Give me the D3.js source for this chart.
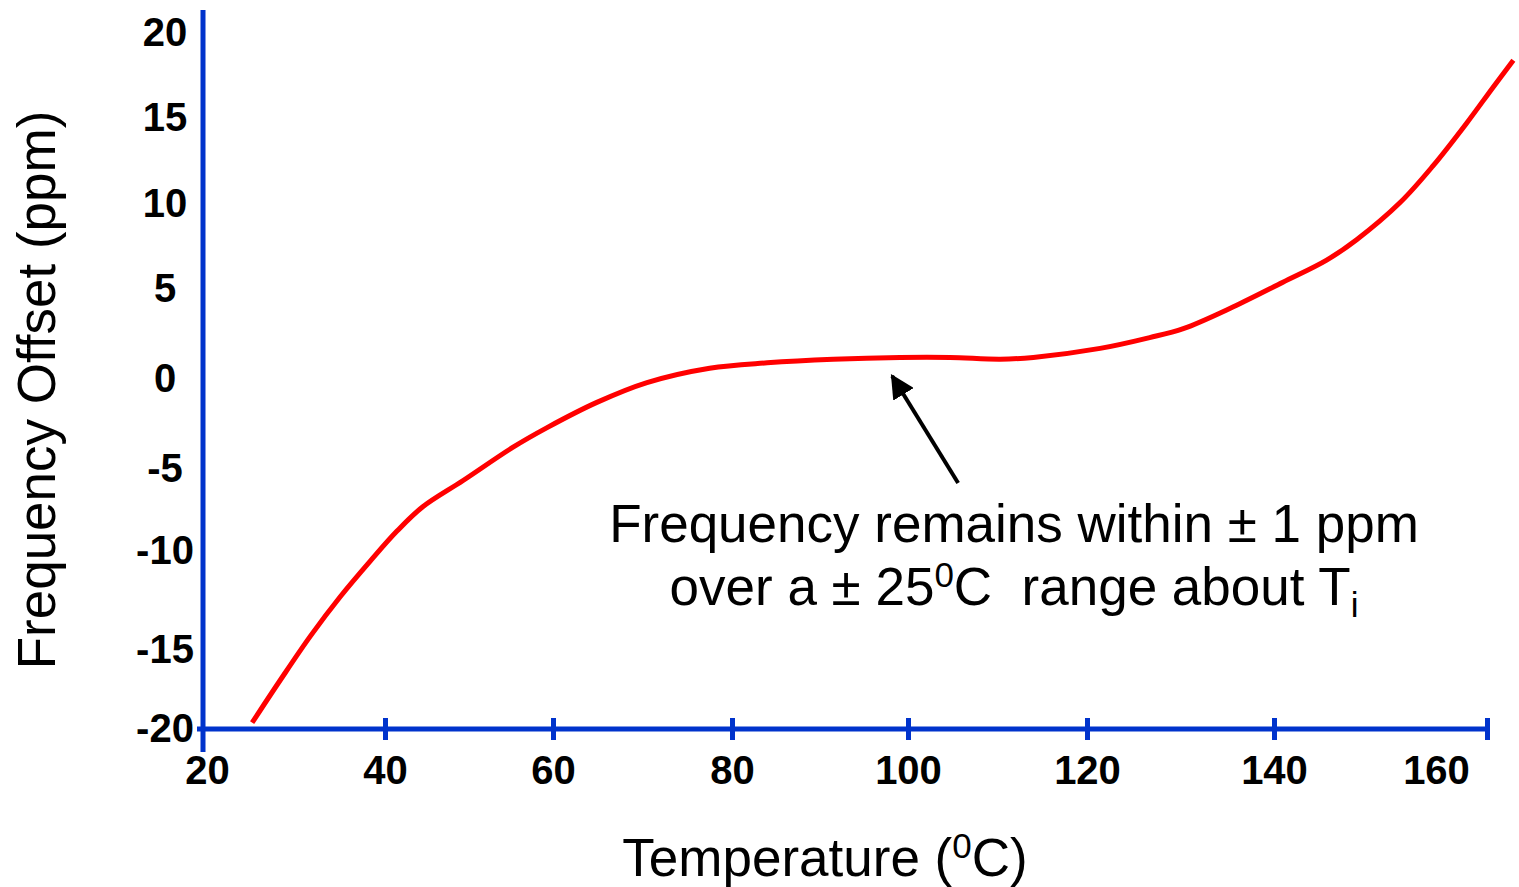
<!DOCTYPE html>
<html>
<head>
<meta charset="utf-8">
<script src="https://cdn.jsdelivr.net/npm/d3@7"></script>
<style>
  html, body { margin: 0; padding: 0; background: #fff; }
  svg { display: block; font-family: "Liberation Sans", Arial, sans-serif; }
</style>
</head>
<body>
<svg id="chart" width="1519" height="887"></svg>
<script>
// Values
const tempC = [25.4, 28.5, 31.8, 35.1, 38.4, 41.4, 44.5, 49.3, 55.2, 59.3, 64.9, 70.5, 77.5, 84.0, 91.5, 99.1,
  104.7, 110.3, 114.0, 121.4, 126.7, 130.3, 135.6, 141.1, 146.5, 150.2, 155.6, 159.6, 163.6, 166.7, 169.1];
const offsetPpm = [-19.6, -16.9, -14.3, -12.3, -10.5, -8.8, -7.3, -5.7, -3.8, -2.7, -1.3, -0.2, 0.6, 0.9, 1.1, 1.2,
  1.2, 1.1, 1.2, 1.7, 2.3, 2.8, 4.0, 5.4, 6.7, 7.9, 10.1, 12.2, 14.7, 16.8, 18.4];

const xTickLabels = [20, 40, 60, 80, 100, 120, 140, 160];
const xTickMarks = [40, 60, 80, 100, 120, 140, 166];
const yTickLabels = [-20, -15, -10, -5, 0, 5, 10, 15, 20];

const xTitle = 'Temperature (';
const yTitle = 'Frequency Offset (ppm)';
const noteLine1 = 'Frequency remains within \u00b1 1 ppm';

const axisColor = '#0033cc';
const curveColor = '#ff0000';

const svg = d3.select('#chart');

// The original was hand drawn, so the gridlines are not evenly spaced: piecewise scales follow it
const x = d3.scaleLinear()
  .domain([20, 40, 60, 80, 100, 120, 140, 160, 166])
  .range([203, 385, 553, 732, 908, 1087, 1274, 1436, 1487]);
const y = d3.scaleLinear()
  .domain(yTickLabels)
  .range([729, 650, 551, 469, 379, 289, 204, 118, 33]);

// Axis lines
svg.append('line')
  .attr('x1', x(20)).attr('x2', x(20))
  .attr('y1', 10).attr('y2', 752)
  .attr('stroke', axisColor).attr('stroke-width', 5);
svg.append('line')
  .attr('x1', 197).attr('x2', x(166))
  .attr('y1', y(-20)).attr('y2', y(-20))
  .attr('stroke', axisColor).attr('stroke-width', 5);

// Tick marks across the x axis
const tickG = svg.append('g')
  .attr('transform', `translate(0,${y(-20)})`)
  .call(d3.axisBottom(x).tickValues(xTickMarks).tickSize(11).tickFormat(''));
tickG.select('.domain').remove();
tickG.selectAll('.tick line')
  .attr('y1', -11).attr('y2', 11)
  .attr('stroke', axisColor).attr('stroke-width', 5);

const fmt = d => String(d); // plain hyphen, as in the original

// X tick labels
const xLab = svg.append('g')
  .attr('transform', `translate(0,${y(-20)})`)
  .call(d3.axisBottom(x).tickValues(xTickLabels).tickSize(0).tickPadding(27).tickFormat(fmt));
xLab.select('.domain').remove();
xLab.selectAll('text')
  .attr('fill', '#000')
  .attr('font-size', 40)
  .attr('font-weight', 'bold')
  .attr('font-family', '"Liberation Sans", Arial, sans-serif')
  .attr('dx', d => d === 20 ? 4 : 0);

// Y tick labels
const yLab = svg.append('g')
  .attr('transform', `translate(${x(20)},0)`)
  .call(d3.axisLeft(y).tickValues(yTickLabels).tickSize(0).tickPadding(38).tickFormat(fmt));
yLab.select('.domain').remove();
yLab.selectAll('text')
  .attr('fill', '#000')
  .attr('text-anchor', 'middle')
  .attr('font-size', 40)
  .attr('font-weight', 'bold')
  .attr('font-family', '"Liberation Sans", Arial, sans-serif');

// Curve
const line = d3.line()
  .x((d, i) => x(d))
  .y((d, i) => y(offsetPpm[i]))
  .curve(d3.curveCatmullRom.alpha(0.5));
svg.append('path')
  .datum(tempC)
  .attr('d', line)
  .attr('fill', 'none')
  .attr('stroke', curveColor)
  .attr('stroke-width', 5);

// Axis titles
const xt = svg.append('text')
  .attr('x', 825).attr('y', 876)
  .attr('text-anchor', 'middle')
  .attr('font-size', 53)
  .attr('fill', '#000');
xt.append('tspan').text(xTitle);
xt.append('tspan').attr('font-size', 35).attr('dy', -18).text('0');
xt.append('tspan').attr('dy', 18).text('C)');

svg.append('text')
  .attr('transform', 'translate(55,390) rotate(-90)')
  .attr('text-anchor', 'middle')
  .attr('font-size', 53)
  .attr('fill', '#000')
  .text(yTitle);

// Annotation arrow
svg.append('defs').append('marker')
  .attr('id', 'head')
  .attr('viewBox', '0 0 10 10')
  .attr('refX', 9).attr('refY', 5)
  .attr('markerWidth', 6).attr('markerHeight', 6)
  .attr('markerUnits', 'strokeWidth')
  .attr('orient', 'auto')
  .append('path')
  .attr('d', 'M0,0L10,5L0,10z')
  .attr('fill', '#000');

svg.append('line')
  .attr('x1', x(105.6)).attr('y1', y(-5.85))
  .attr('x2', x(98.2)).attr('y2', y(0.17))
  .attr('stroke', '#000')
  .attr('stroke-width', 4)
  .attr('marker-end', 'url(#head)');

// Annotation text
const note = svg.append('text')
  .attr('x', 1014).attr('y', 542)
  .attr('text-anchor', 'middle')
  .attr('font-size', 53)
  .attr('fill', '#000')
  .style('white-space', 'pre');
note.text(noteLine1);

const note2 = svg.append('text')
  .attr('x', 1014).attr('y', 605)
  .attr('text-anchor', 'middle')
  .attr('font-size', 53)
  .attr('fill', '#000')
  .style('white-space', 'pre');
note2.append('tspan').text('over a \u00b1 25');
note2.append('tspan').attr('font-size', 35).attr('dy', -18).text('0');
note2.append('tspan').attr('dy', 18).text('C  range about T');
note2.append('tspan').attr('font-size', 35).attr('dy', 12).text('i');
</script>
</body>
</html>
